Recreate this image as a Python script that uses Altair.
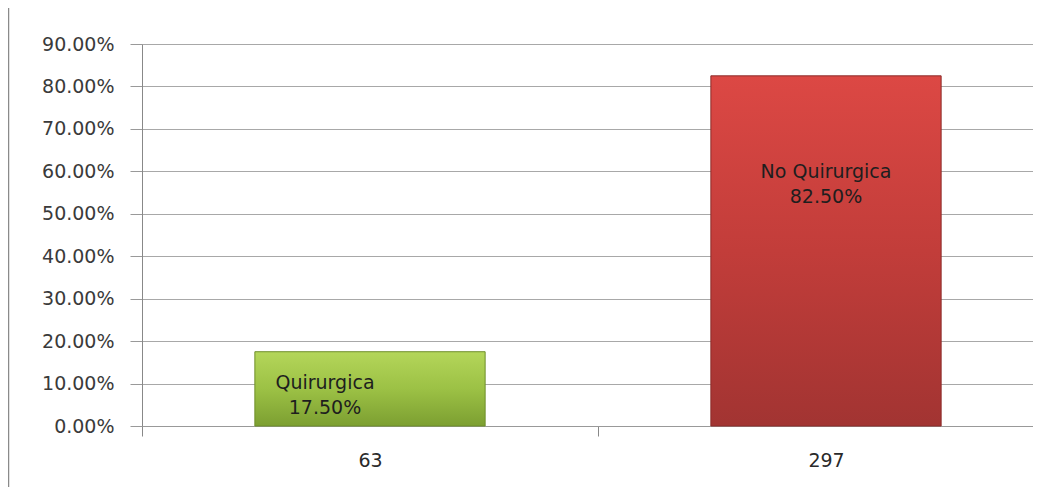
import altair as alt
import pandas as pd

categories = ["63", "297"]
names = ["Quirurgica", "No Quirurgica"]
shares = [0.175, 0.825]
labels = ["17.50%", "82.50%"]

df = pd.DataFrame({"cat": categories, "name": names, "share": shares, "lab": labels})
df["text"] = [[n, l] for n, l in zip(df["name"], df["lab"])]

FONT = "DejaVu Sans"
FS = 19

x_scale = alt.Scale(range=[0, 912], paddingInner=0, paddingOuter=0)
x_enc = alt.X("cat:N", sort=categories, title=None, scale=x_scale,
              axis=alt.Axis(labelAngle=0, labelFontSize=FS, labelFont=FONT, labelColor="#2a2a2a",
                            labelPadding=15, tickBand="extent", tickSize=10, tickColor="#888888",
                            domainColor="#999999", grid=False))
y_enc = alt.Y("share:Q", title=None,
              scale=alt.Scale(domain=[0, 0.9], nice=False),
              axis=alt.Axis(format=".2%", values=[i / 10 for i in range(10)], labelFontSize=FS,
                            labelFont=FONT, labelColor="#3a3a3a", labelPadding=16, tickSize=12,
                            tickColor="#999999", domainColor="#888888", gridColor="#a8a8a8",
                            gridWidth=1))

base = alt.Chart(df)

green = alt.Gradient(gradient="linear", x1=0, x2=0, y1=0, y2=1,
                     stops=[alt.GradientStop(color="#b4d65a", offset=0),
                            alt.GradientStop(color="#9cc145", offset=0.5),
                            alt.GradientStop(color="#7c9f31", offset=1)])
red = alt.Gradient(gradient="linear", x1=0, x2=0, y1=0, y2=1,
                   stops=[alt.GradientStop(color="#dc4844", offset=0),
                          alt.GradientStop(color="#c23d3a", offset=0.5),
                          alt.GradientStop(color="#a23432", offset=1)])

bw = alt.RelativeBandSize(0.505)
bar_g = base.transform_filter(alt.datum.cat == "63").mark_bar(
    fill=green, stroke="#6f8f2a", strokeWidth=1, width=bw).encode(x=x_enc, y=y_enc)
bar_r = base.transform_filter(alt.datum.cat == "297").mark_bar(
    fill=red, stroke="#8c2c2a", strokeWidth=1, width=bw).encode(x=x_enc, y=y_enc)

x_txt = alt.X("cat:N", sort=categories, scale=x_scale)
txt_g = base.transform_filter(alt.datum.cat == "63").mark_text(
    font=FONT, fontSize=FS, color="#1e1e1e", baseline="middle", align="center",
    dy=31, dx=-45, lineHeight=25).encode(x=x_txt, y="share:Q", text="text")
txt_r = base.transform_filter(alt.datum.cat == "297").mark_text(
    font=FONT, fontSize=FS, color="#1e1e1e", baseline="middle", align="center",
    dy=96, lineHeight=25).encode(x=x_txt, y="share:Q", text="text")

frame = alt.Chart(pd.DataFrame({"a": [0]})).mark_rule(color="#8a8a8a", strokeWidth=1.5).encode(
    x=alt.value(-133.5), y=alt.value(-40), y2=alt.value(470))

chart = alt.layer(bar_g, bar_r, txt_g, txt_r, frame).properties(
    width=891, height=382,
    autosize=alt.AutoSizeParams(type="none"),
    padding={"left": 134, "top": 36, "right": 0, "bottom": 61},
).configure_view(stroke=None).configure(background="white")

chart.save("out.html", embed_options={"renderer": "svg", "actions": False})
